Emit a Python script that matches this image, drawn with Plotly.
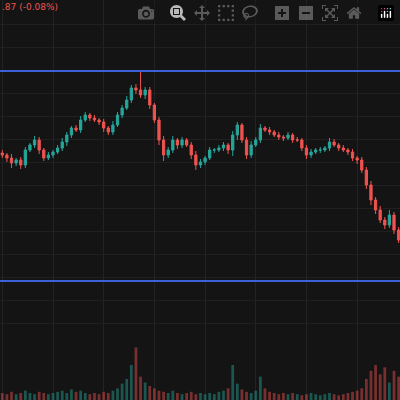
import plotly.graph_objects as go

closes = [145,142,137,140,135,150,155,160,150,142,145,148,152,158,165,172,170,180,185,182,180,178,172,168,175,185,192,200,212,210,
          205,210,195,180,160,145,150,160,155,160,155,145,135,138,142,150,150,152,155,150,165,175,160,145,155,160,172,170,168,165,
          163,162,165,160,160,152,145,148,150,150,152,158,155,152,150,148,142,140,130,115,100,90,80,75,85,70,60]
upper_wick = [3,2,4,2,3,3,2,4,3,2,3,2,3,4,3,2,3,4,3,2,3,2,3,2,4,3,3,4,3,4,
              19,3,3,2,3,4,3,4,2,3,2,3,4,3,2,3,2,3,3,2,4,3,2,3,4,3,4,2,3,2,
              3,2,3,2,3,2,3,3,2,3,2,4,3,2,3,2,3,2,3,3,4,3,4,3,5,3,3]
lower_wick = [3,4,5,3,4,3,2,3,4,3,2,3,2,3,4,3,2,3,2,3,2,3,4,3,3,2,3,2,3,4,
              3,4,4,3,5,6,3,3,4,3,2,4,5,3,3,2,3,2,3,4,6,5,3,4,3,2,3,2,3,2,
              3,3,2,3,2,3,4,3,2,3,2,3,2,3,2,3,3,4,3,4,5,4,3,4,3,4,3]
volumes = [6,5,7,5,6,8,6,5,7,6,5,6,7,8,6,9,7,8,6,5,6,5,7,6,8,10,14,18,30,45,
           20,15,12,10,8,7,6,8,6,5,6,7,5,6,5,6,5,7,8,10,30,14,9,7,6,8,20,10,7,6,
           5,6,5,6,5,4,5,6,5,4,5,6,5,4,5,6,7,8,10,18,25,30,22,28,15,25,20]

n = len(closes)
xs = list(range(n))
opens = [closes[0] + 2] + closes[:-1]
highs = [max(o, c) + u for o, c, u in zip(opens, closes, upper_wick)]
lows = [min(o, c) - l for o, c, l in zip(opens, closes, lower_wick)]
up, down = "#26a69a", "#ef5350"
vcol = ["rgba(38,166,154,0.45)" if c >= o else "rgba(239,83,80,0.45)" for o, c in zip(opens, closes)]

fig = go.Figure()
fig.add_trace(go.Bar(x=xs, y=volumes, marker_color=vcol, marker_line_width=0, yaxis="y2", width=0.6))
fig.add_trace(go.Candlestick(x=xs, open=opens, high=highs, low=lows, close=closes,
                             increasing=dict(line=dict(color=up, width=1), fillcolor=up),
                             decreasing=dict(line=dict(color=down, width=1), fillcolor=down),
                             whiskerwidth=0))
fig.add_hline(y=229, line=dict(color="#3d5fd9", width=2))
fig.add_hline(y=19, line=dict(color="#3d5fd9", width=2))
fig.add_annotation(x=0, y=1, xref="paper", yref="paper", xanchor="left", yanchor="top",
                   text=".87 (-0.08%)", showarrow=False, font=dict(color="#ef5350", size=9, family="DejaVu Sans"))
fig.update_layout(width=400, height=400, margin=dict(l=0, r=0, t=0, b=0),
                  paper_bgcolor="#141414", plot_bgcolor="#141414", showlegend=False,
                  xaxis=dict(range=[-0.5, n - 1 + 0.3], showgrid=True, gridcolor="#232323", showticklabels=False,
                             zeroline=False, rangeslider=dict(visible=False), dtick=11),
                  yaxis=dict(range=[-100, 300], showgrid=True, gridcolor="#202020", dtick=23, showticklabels=False, zeroline=False),
                  yaxis2=dict(domain=[0, 0.14], range=[0, 48], showgrid=False, showticklabels=False, zeroline=False),
                  bargap=0.3)
fig.write_html("out.html", post_script="document.body.style.margin='0';document.body.style.overflow='hidden';document.body.style.background='#141414';")
